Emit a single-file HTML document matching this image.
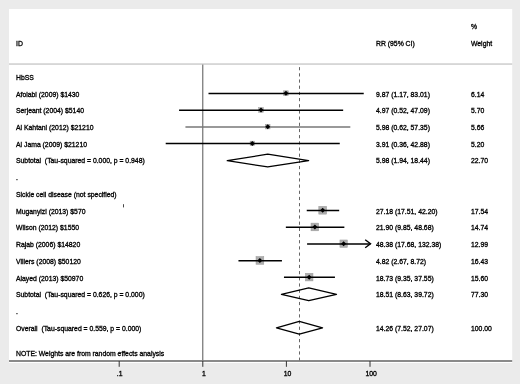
<!DOCTYPE html><html><head><meta charset="utf-8"><style>html,body{margin:0;padding:0;background:#ebebeb;width:520px;height:384px;overflow:hidden}svg{display:block;will-change:transform}text{font-family:"Liberation Sans",sans-serif;font-size:6.85px;fill:#000;stroke:#000;stroke-width:0.3px;white-space:pre}</style></head><body>
<svg width="520" height="384" viewBox="0 0 520 384">
<rect x="0" y="0" width="520" height="384" fill="#ebebeb"/>
<rect x="9" y="9" width="503.2" height="354" fill="#fff"/>
<rect x="9" y="63.3" width="503.2" height="1.5" fill="#cdcdcd"/>
<line x1="202.8" y1="64.6" x2="202.8" y2="360.5" stroke="#555" stroke-width="1"/>
<line x1="299.50" y1="67.1" x2="299.50" y2="360.5" stroke="#555" stroke-width="0.9" stroke-dasharray="3.2 2.98"/>
<rect x="9" y="360.2" width="503.2" height="1.6" fill="#6e6e6e"/>
<line x1="119.20" y1="361" x2="119.20" y2="366.8" stroke="#333" stroke-width="1"/>
<text transform="matrix(1,0,0,1.080,119.70,376.30)" text-anchor="middle">.1</text>
<line x1="202.80" y1="361" x2="202.80" y2="366.8" stroke="#333" stroke-width="1"/>
<text transform="matrix(1,0,0,1.080,204.00,376.30)" text-anchor="middle">1</text>
<line x1="286.40" y1="361" x2="286.40" y2="366.8" stroke="#333" stroke-width="1"/>
<text transform="matrix(1,0,0,1.080,287.60,376.30)" text-anchor="middle">10</text>
<line x1="370.00" y1="361" x2="370.00" y2="366.8" stroke="#333" stroke-width="1"/>
<text transform="matrix(1,0,0,1.080,371.20,376.30)" text-anchor="middle">100</text>
<text transform="matrix(1,0,0,1.080,16.00,46.40)">ID</text>
<text transform="matrix(1,0,0,1.080,376.00,46.40)">RR (95% CI)</text>
<text transform="matrix(1,0,0,1.080,471.00,29.20)">%</text>
<text transform="matrix(1,0,0,1.080,471.00,46.40)">Weight</text>
<text transform="matrix(1,0,0,1.080,16.00,79.88)">HbSS</text>
<text transform="matrix(1,0,0,1.080,16.00,96.60)">Afolabi (2009) $1430</text>
<text transform="matrix(1,0,0,1.080,376.00,96.60)">9.87 (1.17, 83.01)</text>
<text transform="matrix(1,0,0,1.080,471.00,96.60)">6.14</text>
<rect x="283.53" y="90.81" width="4.78" height="4.78" fill="#adadad" stroke="#9a9a9a" stroke-width="0.5"/>
<line x1="208.50" y1="93.45" x2="363.74" y2="93.45" stroke="#000" stroke-width="1.5"/>
<polygon points="283.42,93.30 285.92,90.80 288.42,93.30 285.92,95.80" fill="#000"/>
<text transform="matrix(1,0,0,1.080,16.00,113.32)">Serjeant (2004) $5140</text>
<text transform="matrix(1,0,0,1.080,376.00,113.32)">4.97 (0.52, 47.09)</text>
<text transform="matrix(1,0,0,1.080,471.00,113.32)">5.70</text>
<rect x="258.71" y="107.62" width="4.61" height="4.61" fill="#adadad" stroke="#9a9a9a" stroke-width="0.5"/>
<line x1="179.06" y1="110.17" x2="343.16" y2="110.17" stroke="#000" stroke-width="1.5"/>
<polygon points="258.52,110.02 261.02,107.52 263.52,110.02 261.02,112.52" fill="#000"/>
<text transform="matrix(1,0,0,1.080,16.00,130.04)">Al Kahtani (2012) $21210</text>
<text transform="matrix(1,0,0,1.080,376.00,130.04)">5.98 (0.62, 57.35)</text>
<text transform="matrix(1,0,0,1.080,471.00,130.04)">5.66</text>
<rect x="265.44" y="124.34" width="4.59" height="4.59" fill="#adadad" stroke="#9a9a9a" stroke-width="0.5"/>
<line x1="185.44" y1="127.00" x2="350.31" y2="127.00" stroke="#777" stroke-width="1.6"/>
<polygon points="265.23,126.74 267.73,124.24 270.23,126.74 267.73,129.24" fill="#000"/>
<text transform="matrix(1,0,0,1.080,16.00,146.76)">Al Jama (2009) $21210</text>
<text transform="matrix(1,0,0,1.080,376.00,146.76)">3.91 (0.36, 42.88)</text>
<text transform="matrix(1,0,0,1.080,471.00,146.76)">5.20</text>
<rect x="250.11" y="141.16" width="4.40" height="4.40" fill="#adadad" stroke="#9a9a9a" stroke-width="0.5"/>
<line x1="165.71" y1="143.61" x2="339.76" y2="143.61" stroke="#000" stroke-width="1.5"/>
<polygon points="249.81,143.46 252.31,140.96 254.81,143.46 252.31,145.96" fill="#000"/>
<text transform="matrix(1,0,0,1.080,16.00,163.48)">Subtotal  (Tau-squared = 0.000, p = 0.948)</text>
<text transform="matrix(1,0,0,1.080,376.00,163.48)">5.98 (1.94, 18.44)</text>
<text transform="matrix(1,0,0,1.080,471.00,163.48)">22.70</text>
<polygon points="227.26,160.58 267.73,154.18 308.62,160.58 267.73,166.98" fill="none" stroke="#000" stroke-width="1.3" stroke-linejoin="round"/>
<text transform="matrix(1,0,0,1.080,16.00,180.20)">.</text>
<text transform="matrix(1,0,0,1.080,16.00,196.92)">Sickle cell disease (not specified)</text>
<text transform="matrix(1,0,0,1.080,16.00,213.64)">Muganyizi (2013) $570</text>
<text transform="matrix(1,0,0,1.080,376.00,213.64)">27.18 (17.51, 42.20)</text>
<text transform="matrix(1,0,0,1.080,471.00,213.64)">17.54</text>
<rect x="318.80" y="206.34" width="7.80" height="7.80" fill="#adadad" stroke="#9a9a9a" stroke-width="0.5"/>
<line x1="306.74" y1="210.49" x2="339.18" y2="210.49" stroke="#000" stroke-width="1.5"/>
<polygon points="320.20,210.34 322.70,207.84 325.20,210.34 322.70,212.84" fill="#000"/>
<text transform="matrix(1,0,0,1.080,16.00,230.36)">Wilson (2012) $1550</text>
<text transform="matrix(1,0,0,1.080,376.00,230.36)">21.90 (9.85, 48.68)</text>
<text transform="matrix(1,0,0,1.080,471.00,230.36)">14.74</text>
<rect x="311.01" y="223.11" width="7.70" height="7.70" fill="#adadad" stroke="#9a9a9a" stroke-width="0.5"/>
<line x1="285.85" y1="227.21" x2="344.36" y2="227.21" stroke="#000" stroke-width="1.5"/>
<polygon points="312.36,227.06 314.86,224.56 317.36,227.06 314.86,229.56" fill="#000"/>
<text transform="matrix(1,0,0,1.080,16.00,247.08)">Rajab (2006) $14820</text>
<text transform="matrix(1,0,0,1.080,376.00,247.08)">48.38 (17.68, 132.38)</text>
<text transform="matrix(1,0,0,1.080,471.00,247.08)">12.99</text>
<rect x="339.94" y="239.98" width="7.40" height="7.40" fill="#adadad" stroke="#9a9a9a" stroke-width="0.5"/>
<line x1="307.09" y1="243.93" x2="370.50" y2="243.93" stroke="#000" stroke-width="1.5"/>
<polyline points="365.20,239.78 370.50,243.78 365.20,247.78" fill="none" stroke="#000" stroke-width="1.4"/>
<polygon points="341.14,243.78 343.64,241.28 346.14,243.78 343.64,246.28" fill="#000"/>
<text transform="matrix(1,0,0,1.080,16.00,263.80)">Villers (2008) $50120</text>
<text transform="matrix(1,0,0,1.080,376.00,263.80)">4.82 (2.67, 8.72)</text>
<text transform="matrix(1,0,0,1.080,471.00,263.80)">16.43</text>
<rect x="256.00" y="256.50" width="7.80" height="7.80" fill="#adadad" stroke="#9a9a9a" stroke-width="0.5"/>
<line x1="238.46" y1="260.65" x2="281.93" y2="260.65" stroke="#000" stroke-width="1.5"/>
<polygon points="257.40,260.50 259.90,258.00 262.40,260.50 259.90,263.00" fill="#000"/>
<text transform="matrix(1,0,0,1.080,16.00,280.52)">Alayed (2013) $50970</text>
<text transform="matrix(1,0,0,1.080,376.00,280.52)">18.73 (9.35, 37.55)</text>
<text transform="matrix(1,0,0,1.080,471.00,280.52)">15.60</text>
<rect x="305.38" y="273.32" width="7.60" height="7.60" fill="#adadad" stroke="#9a9a9a" stroke-width="0.5"/>
<line x1="283.96" y1="277.37" x2="334.94" y2="277.37" stroke="#000" stroke-width="1.5"/>
<polygon points="306.68,277.22 309.18,274.72 311.68,277.22 309.18,279.72" fill="#000"/>
<text transform="matrix(1,0,0,1.080,16.00,297.24)">Subtotal  (Tau-squared = 0.626, p = 0.000)</text>
<text transform="matrix(1,0,0,1.080,376.00,297.24)">18.51 (8.63, 39.72)</text>
<text transform="matrix(1,0,0,1.080,471.00,297.24)">77.30</text>
<polygon points="281.45,294.34 308.76,287.94 336.48,294.34 308.76,300.74" fill="none" stroke="#000" stroke-width="1.3" stroke-linejoin="round"/>
<text transform="matrix(1,0,0,1.080,16.00,313.96)">.</text>
<text transform="matrix(1,0,0,1.080,16.00,330.68)">Overall  (Tau-squared = 0.559, p = 0.000)</text>
<text transform="matrix(1,0,0,1.080,376.00,330.68)">14.26 (7.52, 27.07)</text>
<text transform="matrix(1,0,0,1.080,471.00,330.68)">100.00</text>
<polygon points="276.45,327.78 299.28,321.38 322.56,327.78 299.28,334.18" fill="none" stroke="#000" stroke-width="1.3" stroke-linejoin="round"/>
<text transform="matrix(1,0,0,1.080,16.00,356.20)">NOTE: Weights are from random effects analysis</text>
<rect x="123" y="204.2" width="0.9" height="3.2" fill="#333"/>
</svg></body></html>
